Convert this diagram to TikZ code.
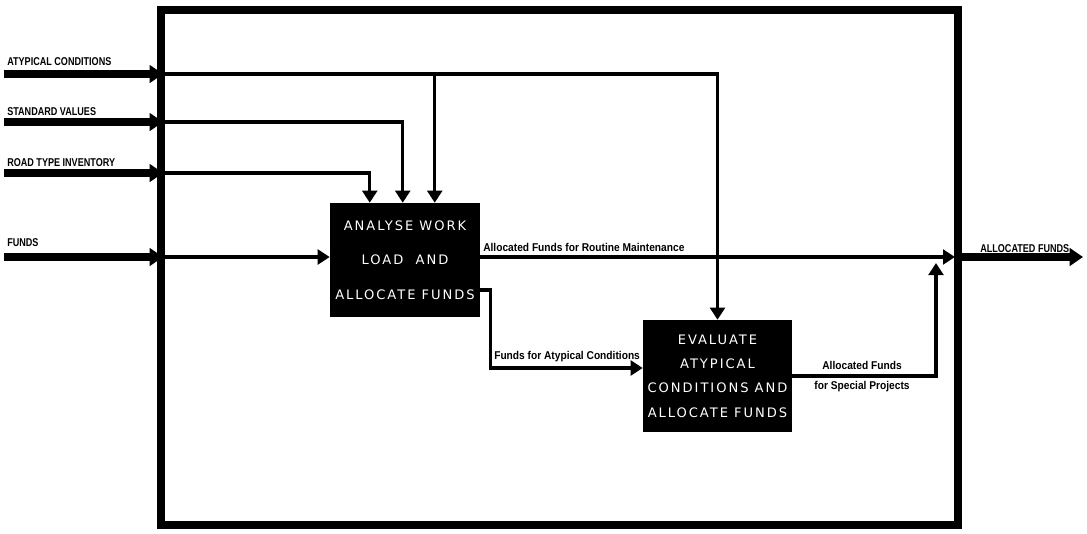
\documentclass[tikz,border=0pt]{standalone}
\usepackage{fontspec}
\setmainfont{Liberation Sans}
\newfontfamily\lblfont[FakeStretch=0.8]{Liberation Sans}
\newfontfamily\lblfontw[FakeStretch=0.9]{Liberation Sans}
\newfontfamily\boxfont[LetterSpace=15]{DejaVu Sans}
\usetikzlibrary{arrows.meta}

\tikzset{
  frame/.style={line width=6pt},
  inarrow/.style={line width=6pt,-{Triangle[length=10pt,width=13pt]}},
  flow/.style={line width=2.6pt,-{Triangle[length=9pt,width=11pt]}},
  line/.style={line width=2.6pt},
  procbox/.style={fill=black,text=white,inner sep=0pt,align=center},
  lbl/.style={font=\lblfont\bfseries\fontsize{8.5}{10}\selectfont,inner sep=0pt},
  lblw/.style={font=\lblfontw\bfseries\fontsize{8.5}{10}\selectfont,inner sep=0pt}
}

\begin{document}
\begin{tikzpicture}[x=0.75pt,y=-0.75pt]
\useasboundingbox (0,0) rectangle (1087,533);
% outer frame
\draw[frame] (161,10) rectangle (958,525);
% activities
\node[procbox,minimum width=112.5pt,minimum height=85.5pt,
  font=\boxfont\fontsize{9.8}{26}\selectfont] (aw) at (405,260)
  {ANALYSE WORK\\LOAD\ \ AND\\ALLOCATE FUNDS};
\node[procbox,minimum width=111.75pt,minimum height=84pt,
  font=\boxfont\fontsize{9.8}{18.2}\selectfont] (ev) at (717.5,376)
  {EVALUATE\\ATYPICAL\\CONDITIONS AND\\ALLOCATE FUNDS};
% inputs from outside
\coordinate (ac0) at (4,74);   \coordinate (ac) at (163,74);
\coordinate (sv0) at (4,122);  \coordinate (sv) at (163,122);
\coordinate (rt0) at (4,173);  \coordinate (rt) at (163,173);
\coordinate (fd0) at (4,257);  \coordinate (fd) at (163,257);
\draw[inarrow] (ac0) -- (ac);
\draw[inarrow] (sv0) -- (sv);
\draw[inarrow] (rt0) -- (rt);
\draw[inarrow] (fd0) -- (fd);
\node[lbl,anchor=west] at (7,62) {ATYPICAL CONDITIONS};
\node[lbl,anchor=west] at (7,112) {STANDARD VALUES};
\node[lbl,anchor=west] at (7,163) {ROAD TYPE INVENTORY};
\node[lbl,anchor=west] at (7,243) {FUNDS};
% controls into the first box
\path (aw.north west) ++(40,0) coordinate (aw1) ++(33,0) coordinate (aw2)
  ++(32,0) coordinate (aw3);
\draw[line] (ac) -- (aw3 |- ac);
\draw[flow] (aw3 |- ac) -| (ev);
\draw[flow] (aw3 |- ac) -- (aw3);
\draw[flow] (sv) -| (aw2);
\draw[flow] (rt) -| (aw1);
\draw[flow] (fd) -- (fd -| aw.west);
% outputs
\coordinate (rm) at (955,257);
\coordinate (out0) at (962,257); \coordinate (out) at (1083,257);
\draw[flow] (aw.east |- rm) -- (rm);
\node[lblw,anchor=west] at (483,247) {Allocated Funds for Routine Maintenance};
\draw[flow] ([yshift=-22.5pt]aw.east) -- ++(10,0) |- ([yshift=6pt]ev.west);
\node[lblw,anchor=west] at (494,357) {Funds for Atypical Conditions};
\coordinate (sp) at (936,263);
\draw[flow] (ev.east) -| (sp);
\node[lblw,align=center,font=\lblfontw\bfseries\fontsize{8.5}{15}\selectfont]
  at (862,377) {Allocated Funds\\for Special Projects};
\draw[inarrow] (out0) -- (out);
\node[lbl,anchor=west] at (980,249) {ALLOCATED FUNDS};
\end{tikzpicture}
\end{document}
